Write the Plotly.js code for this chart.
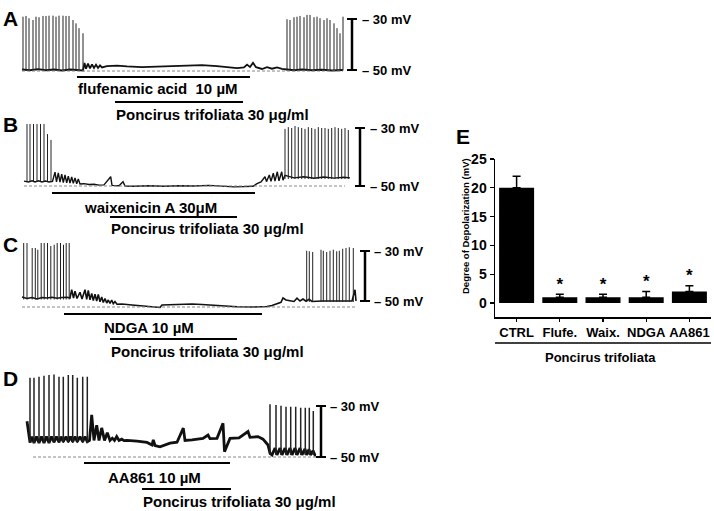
<!DOCTYPE html>
<html><head><meta charset="utf-8">
<script src="https://cdn.plot.ly/plotly-3.0.1.min.js"></script>
<style>html,body{margin:0;padding:0;background:#fff}#chart{width:714px;height:511px}</style>
</head><body><div id="chart"></div>
<script>
// ---------- Panel A: flufenamic acid (time in a.u., membrane potential in mV) ----------
const preT_A = [1,4,7,11,14,17,21,24,27,31,34,37,41,44,47,51,54,57,61];
const prePeak_A = [-29.1,-28.8,-29.7,-30.4,-29.1,-29.3,-28.8,-28.8,-28.7,-28.7,-29.1,-28.7,-28.7,-28.8,-28.8,-30.4,-31.7,-33.6,-35.6];
const postT_A = [265,268,272,275,278,282,285,288,292,295,298,302,305,308,312,315,318,321];
const postPeak_A = [-30.1,-30.4,-29.3,-29.1,-28.8,-29.3,-28.4,-28.4,-29.3,-29.1,-29.7,-30.4,-29.7,-30.4,-31.7,-33.6,-35.6,-29.1];
const basePre_A = -50.2, basePost_A = -50.2;
const traceT_A = [0,8,16,24,32,40,48,56,61,62.5,64,66,68,70,72,74,76,78,80,85,95,105,120,135,150,165,180,195,205,215,222,225,228,231,234,240,245,250,255,260,265,272,280,290,300,310,321];
const traceV_A = [-49.8,-50.1,-49.7,-50.1,-49.8,-50.2,-49.8,-50.1,-50.2,-47.2,-49.5,-47.5,-49.4,-47.8,-49.2,-47.9,-49.2,-48.2,-49,-48.5,-48.3,-48.6,-48.9,-48.7,-48.4,-48.2,-48.1,-48.5,-48.9,-49.3,-49,-47.9,-48.8,-47.2,-48.9,-49.6,-48.9,-49.5,-49,-49.6,-49.8,-50.1,-49.8,-50.1,-49.9,-50.2,-50];
const rest_A = -50.4, restSpan_A = [0, 321];
const drug_A = [55, 228], poncirus_A = [93, 221];

// ---------- Panel B: waixenicin A ----------
const preT_B = [3,6,9.5,13,16.5,20,23.5,27];
const prePeak_B = [-28.6,-28.6,-28.6,-28.6,-28.6,-28.6,-32.1,-34.1];
const postT_B = [261,264.3,267.7,271,274.3,277.7,281,284.3,287.7,291,294.3,297.7,301,304.3,307.7,311,314.3,317.7,321,324.3];
const postPeak_B = [-30.3,-29.7,-30,-29.3,-29.7,-30,-30.3,-29.7,-30,-30.3,-29.7,-30,-30,-30.3,-30,-29.7,-30,-30.3,-30,-30.7];
const basePre_B = -48.5, basePost_B = -47.6;
const traceT_B = [0,4.5,8,11,14.5,18,21.5,25,28.5,
  31,32.5,34.3,36,37.7,39.3,41,42.7,44.3,46,47.7,49.3,51,52.7,54.3,56,
  60,65,70,75,80,86.7,88,95,99,101,
  110,125,140,155,170,185,200,210,220,229,
  233,237,241,242.5,245.3,247,249.3,251,253.3,255,257.7,259,261,
  270,280,290,300,310,320,326];
const traceV_B = [-48.3,-48.6,-48.2,-48.6,-48.2,-48.6,-48.3,-48.6,-48.4,
  -45.2,-48.6,-45.5,-48.7,-45.9,-48.8,-46.2,-48.9,-46.6,-49,-46.9,-49.1,-47.2,-49.2,-47.6,-49.3,
  -49.2,-49.5,-49.4,-49.7,-49.6,-46.8,-49.8,-49.9,-48.5,-50,
  -50.1,-49.9,-50.1,-49.9,-50,-49.8,-50.1,-50.3,-50.2,-50.1,
  -49.2,-48.6,-46.8,-48.5,-46.2,-48.4,-45.6,-48.3,-45.1,-48.2,-45.1,-48,-46.3,
  -47.2,-46.8,-47.3,-46.9,-47.3,-47,-47.2];
const rest_B = -50.0, restSpan_B = [0, 321];
const drug_B = [28, 231], poncirus_B = [86, 213];

// ---------- Panel C: NDGA ----------
const preT_C = [1.7,5,10.2,13.3,15.8,19.2,22.2,25.5,28.8,32.2,35.2,38.5,41.5,44.2,47.2];
const prePeak_C = [-26.8,-26.8,-28.8,-28.8,-29.5,-26.8,-26.8,-26.8,-28,-27.5,-26.8,-26.8,-27.5,-26.8,-26.8];
const postT_C = [284.7,287.3,290.7,299,301.3,304.7,308,311.3,314.7,317.3,320.7,324,327.3,331.3];
const postPeak_C = [-29.9,-30.1,-30.4,-29.5,-29.9,-30.4,-29.9,-29.5,-30.1,-29.9,-29.1,-28.8,-28.5,-28.8];
const basePre_C = -49.4, basePost_C = -50.4;
const traceT_C = [0,5,10,15,20,25,30,35,40,45,48,
  49.7,51.5,53,55,58,60,63,64.7,66.3,68,69.7,71.3,73,74.7,76.3,78,79.7,81.3,83,84.7,86.3,88,89.7,91.3,93,95,
  100,110,120,130,138,140,150,160,170,180,190,200,215,230,245,250,255,259,
  261,264,268,272,275,278,281,284,287,290,
  300,315,330,333,334];
const traceV_C = [-48.4,-49,-48.6,-49.2,-48.6,-48.8,-48.5,-48.9,-48.6,-48.5,-48.8,
  -45.5,-48.8,-46.1,-49,-46.5,-49.2,-45.5,-49.3,-45.8,-49.5,-47,-49.8,-47.3,-50,-47.4,-50.3,-48.4,-50.6,-49,-50.8,-49.6,-51,-49.6,-51.1,-50.2,-51.3,
  -51.2,-51.6,-52,-52.4,-52.6,-51.6,-51.4,-51.3,-51.2,-51.4,-51.7,-52,-52.3,-52.4,-52.2,-51.8,-51.2,-50.5,
  -48.8,-49.6,-49.9,-50.2,-48.9,-50,-49.2,-50.1,-49.3,-50.2,
  -50,-50.1,-50,-45.5,-50];
const rest_C = -52.4, restSpan_C = [0, 333];
const drug_C = [42, 240], poncirus_C = [88, 215];

// ---------- Panel D: AA861 ----------
const preT_D = [3,7,12,17,22,27,32,36.3,41.3,45.7,50.3,55.7,60.3];
const prePeak_D = [-18.9,-18.9,-18.5,-18.1,-17.8,-17.6,-18.5,-18.5,-17.8,-17.8,-18.9,-18.5,-18.5];
const postT_D = [243,249,254,259,263.7,268.7,273.7,278.3,282.3,286.3];
const postPeak_D = [-29.3,-29.6,-29.9,-30.3,-30.3,-30.3,-30.7,-30.7,-30.7,-32];
const basePre_D = -44.5, basePost_D = -49.2;
const traceT_D = [0,1.5,3,5,7,9.5,12,14.5,17,19.5,
  22,24.5,27,29.5,32,34,36.3,39,41.3,43.5,
  45.7,48,50.3,53,55.7,58,60.3,
  62.5,64.7,67,69.7,72,74.7,77.5,80.3,83,85.3,
  87.5,89.7,92,94.7,97,100,
  110,120,125,126.3,128,133,143,150,156.3,158,
  165,176,181,183,190,196,197.5,203,212,221,
  223,231,236,241,
  243,245,248,250,253,255,258,260,263,265,
  268,270,273,275,278,279.5,282,283.5,286,288,289];
const traceV_D = [-36,-41,-44.3,-42,-44.5,-42,-44.5,-42,-44.5,-42,
  -44.5,-42,-44.2,-42,-44.2,-42,-44,-42,-44,-42,
  -44,-42,-44,-42,-44,-42,-44,
  -43.5,-33.5,-43.5,-37.5,-43.5,-38.6,-43.5,-40.5,-43.5,-42.6,
  -43.5,-42,-43.5,-43,-43.6,-43.5,
  -43.8,-44.3,-45.3,-43.3,-45.5,-46,-44.6,-44.2,-38.7,-43.5,
  -43.3,-42.7,-41.4,-42.8,-42.7,-36.8,-47.9,-42.7,-42.5,-40,
  -42.3,-42,-43,-45.3,
  -48.5,-49.2,-46.5,-49.2,-46.5,-49.2,-46.5,-49.2,-46.5,-49.2,
  -46.5,-49.2,-46.5,-49.2,-46.8,-49.2,-47,-49.2,-47.5,-49.3,-49.3];
const rest_D = -50.0, restSpan_D = [6, 289];
const drug_D = [57, 203], poncirus_D = [115, 204];

// ---------- Panel E: bar chart ----------
const categories = ['CTRL','Flufe.','Waix.','NDGA','AA861'];
const depolarization = [20, 1, 1, 1, 2];
const depolErr = [2, 0.5, 0.5, 1, 1];
const significant = [false, true, true, true, true];
const yTicksE = [0, 5, 10, 15, 20, 25];

// ================= drawing =================
const W = 714, H = 511;
const FONT = 'Liberation Sans, Arial, Helvetica, sans-serif';
const fx = p => p / W, fy = p => 1 - p / H;
const XFRAC = 0.62;

const panels = [
  {k:'A', ax:'', x0:22, p30:19, p50:70, top:4, bot:76, preT:preT_A, prePk:prePeak_A, postT:postT_A, postPk:postPeak_A, bPre:basePre_A, bPost:basePost_A, tT:traceT_A, tV:traceV_A, rest:rest_A, restSpan:restSpan_A, drug:drug_A, pon:poncirus_A,
   lw:1.8, slw:1, scaleX:352, labX:361, drugY:77, ponY:102, drugTxt:'flufenamic acid\u00a0 10 µM', drugTxtX:77, drugTxtY:89, ponTxtX:115, ponTxtY:114, letterY:18},
  {k:'B', ax:'2', x0:24, p30:128, p50:186, top:112, bot:190, preT:preT_B, prePk:prePeak_B, postT:postT_B, postPk:postPeak_B, bPre:basePre_B, bPost:basePost_B, tT:traceT_B, tV:traceV_B, rest:rest_B, restSpan:restSpan_B, drug:drug_B, pon:poncirus_B,
   lw:1.4, slw:1, scaleX:360, labX:369, drugY:193, ponY:217, drugTxt:'waixenicin A 30μM', drugTxtX:83, drugTxtY:207, ponTxtX:110, ponTxtY:229, letterY:125},
  {k:'C', ax:'3', x0:22, p30:251, p50:301, top:236, bot:310, preT:preT_C, prePk:prePeak_C, postT:postT_C, postPk:postPeak_C, bPre:basePre_C, bPost:basePost_C, tT:traceT_C, tV:traceV_C, rest:rest_C, restSpan:restSpan_C, drug:drug_C, pon:poncirus_C,
   lw:1.6, slw:1, scaleX:365, labX:373, drugY:314, ponY:339, drugTxt:'NDGA 10 µM', drugTxtX:103, drugTxtY:327, ponTxtX:110, ponTxtY:351, letterY:245},
  {k:'D', ax:'4', x0:27, p30:406, p50:457, top:365, bot:462, preT:preT_D, prePk:prePeak_D, postT:postT_D, postPk:postPeak_D, bPre:basePre_D, bPost:basePost_D, tT:traceT_D, tV:traceV_D, rest:rest_D, restSpan:restSpan_D, drug:drug_D, pon:poncirus_D,
   lw:2.8, slw:1.5, scaleX:321, labX:329, drugY:463, ponY:489, drugTxt:'AA861 10 µM', drugTxtX:107, drugTxtY:477, ponTxtX:142, ponTxtY:501, letterY:378}
];

const data = [];
const layout = {
  width: W, height: H, margin:{l:0,r:0,t:0,b:0}, showlegend:false,
  paper_bgcolor:'#fff', plot_bgcolor:'rgba(0,0,0,0)',
  font:{family:FONT, color:'#000'}, shapes:[], annotations:[]
};
const B = s => '<b>' + s + '</b>';
function ann(text, xpx, ypx, size, xanchor, extra){
  return Object.assign({text:B(text), xref:'paper', yref:'paper', x:fx(xpx), y:fy(ypx), xanchor:xanchor||'left', yanchor:'middle',
    showarrow:false, borderpad:0, font:{family:FONT, size:size, color:'#000'}}, extra||{});
}

panels.forEach(p => {
  const xa = 'x' + p.ax, ya = 'y' + p.ax;
  const kpx = (p.p50 - p.p30) / 20;           // px per mV
  const mv = px => -30 - (px - p.p30) / kpx;
  layout['xaxis' + p.ax] = {domain:[0, XFRAC], range:[-p.x0, XFRAC*W - p.x0], visible:false, fixedrange:true, anchor:ya};
  layout['yaxis' + p.ax] = {domain:[fy(p.bot), fy(p.top)], range:[mv(p.bot), mv(p.top)], visible:false, fixedrange:true, anchor:xa};
  // slow membrane trace
  data.push({type:'scatter', mode:'lines', x:p.tT, y:p.tV, xaxis:xa, yaxis:ya, line:{color:'#111', width:p.lw}, hoverinfo:'skip'});
  // action potentials: trough -> peak
  const sx = [], sy = [];
  p.preT.forEach((t,i) => { sx.push(t, t, null); sy.push(p.bPre, p.prePk[i], null); });
  p.postT.forEach((t,i) => { sx.push(t, t, null); sy.push(p.bPost, p.postPk[i], null); });
  data.push({type:'scatter', mode:'lines', x:sx, y:sy, xaxis:xa, yaxis:ya, line:{color:'#222', width:p.slw}, hoverinfo:'skip', connectgaps:false});
  // resting-potential dashed reference
  layout.shapes.push({type:'line', xref:xa, yref:ya, x0:p.restSpan[0], x1:p.restSpan[1], y0:p.rest, y1:p.rest, line:{color:'#888', width:1, dash:'3px,2px'}});
  // scale bar -30 / -50 mV
  layout.shapes.push({type:'line', xref:'paper', yref:ya, x0:fx(p.scaleX), x1:fx(p.scaleX), y0:-50, y1:-30, line:{color:'#000', width:2.5}});
  [-30,-50].forEach(v => {
    layout.shapes.push({type:'line', xref:'paper', yref:ya, x0:fx(p.scaleX-5), x1:fx(p.scaleX+5), y0:v, y1:v, line:{color:'#000', width:2}});
    layout.annotations.push({text:B('– ' + (-v) + ' mV'), xref:'paper', yref:ya, x:fx(p.labX), y:v, xanchor:'left', yanchor:'middle', showarrow:false, borderpad:0, font:{family:FONT, size:13, color:'#000'}});
  });
  // drug application bars
  layout.shapes.push({type:'line', xref:xa, yref:'paper', x0:p.drug[0], x1:p.drug[1], y0:fy(p.drugY), y1:fy(p.drugY), line:{color:'#000', width:2}});
  layout.shapes.push({type:'line', xref:xa, yref:'paper', x0:p.pon[0], x1:p.pon[1], y0:fy(p.ponY), y1:fy(p.ponY), line:{color:'#000', width:2}});
  layout.annotations.push(ann(p.drugTxt, p.drugTxtX, p.drugTxtY, 15));
  layout.annotations.push(ann('Poncirus trifoliata 30 μg/ml', p.ponTxtX, p.ponTxtY, 15));
  layout.annotations.push(ann(p.k, 2, p.letterY, 21));
});

// Panel E
layout.xaxis5 = {domain:[fx(495), fx(711)], range:[-0.5, 4.5], type:'category', anchor:'y5',
  showline:true, linecolor:'#000', linewidth:1.5, ticks:'outside', ticklen:3, tickwidth:1.2, tickcolor:'#000',
  showgrid:false, zeroline:false, tickfont:{family:FONT, size:13, color:'#000', weight:'bold'}, fixedrange:true};
layout.yaxis5 = {domain:[fy(317), fy(159)], range:[-2.43, 25], anchor:'x5',
  showline:true, linecolor:'#000', linewidth:1.5, ticks:'outside', ticklen:4, tickwidth:1.2, tickcolor:'#000',
  tickvals:yTicksE, ticktext:yTicksE.map(String), showgrid:false, zeroline:false,
  tickfont:{family:FONT, size:14, color:'#000', weight:'bold'}, fixedrange:true};
data.push({type:'bar', x:categories, y:depolarization, xaxis:'x5', yaxis:'y5', width:0.81,
  marker:{color:'#000', line:{width:0}},
  error_y:{type:'data', symmetric:false, array:depolErr, arrayminus:depolErr.map(()=>0), color:'#000', thickness:1.5, width:4},
  hoverinfo:'skip'});
const sigX = [], sigY = [];
categories.forEach((c,i) => { if (significant[i]) { sigX.push(c); sigY.push(depolarization[i] + depolErr[i]); } });
data.push({type:'scatter', mode:'text', x:sigX, y:sigY, text:sigX.map(()=>'<b>*</b>'), textposition:'top center',
  textfont:{family:FONT, size:17, color:'#000'}, xaxis:'x5', yaxis:'y5', hoverinfo:'skip', cliponaxis:false});

layout.annotations.push(ann('E', 455, 137, 21));
layout.annotations.push(ann('Degree of Depolarization (mV)', 465, 226, 9.5, 'center', {textangle:-90}));
layout.shapes.push({type:'line', xref:'paper', yref:'paper', x0:fx(495), x1:fx(711), y0:fy(343), y1:fy(343), line:{color:'#000', width:1.5}});
layout.annotations.push(ann('Poncirus trifoliata', 600, 357, 13, 'center'));

Plotly.newPlot('chart', data, layout, {staticPlot:true, displayModeBar:false});
</script>
</body></html>
